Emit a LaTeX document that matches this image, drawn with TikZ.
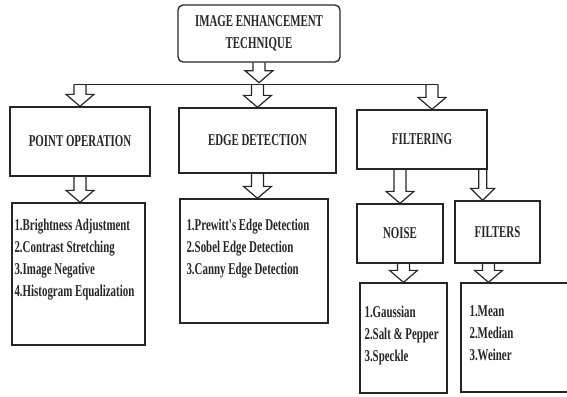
\documentclass[tikz,border=0pt]{standalone}
\usepackage{fontspec}
\newfontfamily\diagfont[FakeStretch=0.66]{Liberation Serif}
\usetikzlibrary{calc}

\tikzset{
  box/.style={draw=black!85, line width=1.3pt, inner sep=0pt},
  hdr/.style={font=\diagfont\bfseries\fontsize{16.5}{22}\selectfont, text=black!85, align=center},
  lst/.style={font=\diagfont\bfseries\fontsize{16.5}{22}\selectfont, text=black!85, align=left, anchor=north west, inner sep=0pt},
  blkline/.style={draw=black!85, line width=1.2pt, line join=miter}
}

% hollow block arrow, #1 = half shaft width
\newcommand{\blk}[3][6]{%
  \draw[blkline] let \p1=(#2), \p2=(#3), \n1={#1}, \n2={#1+8} in
    (\x1-\n1,\y1) -- (\x1-\n1,\y2+12) -- (\x1-\n2,\y2+12) -- (\x1,\y2)
    -- (\x1+\n2,\y2+12) -- (\x1+\n1,\y2+12) -- (\x1+\n1,\y1);}

\begin{document}
\begin{tikzpicture}[x=1pt, y=-1pt]
  \useasboundingbox (0,0) rectangle (567,396);

  % main boxes
  \node[box, hdr, rounded corners=5pt, minimum width=162pt, minimum height=57pt] (top) at (259,33.5) {IMAGE ENHANCEMENT\\TECHNIQUE};
  \node[box, hdr, minimum width=140pt, minimum height=69pt] (point) at (80,141.5) {POINT OPERATION};
  \node[box, hdr, minimum width=157pt, minimum height=65pt] (edge) at (257.5,140.5) {EDGE DETECTION};
  \node[box, hdr, minimum width=130pt, minimum height=59pt] (filt) at (422,139.5) {FILTERING};
  \node[box, hdr, minimum width=86pt, minimum height=59pt] (noise) at (400,233.5) {NOISE};
  \node[box, hdr, minimum width=85pt, minimum height=62pt] (filters) at (497.5,232) {FILTERS};

  % list boxes
  \node[box, minimum width=133pt, minimum height=142pt] (pointlist) at (78.5,274) {};
  \node[box, minimum width=148pt, minimum height=124pt] (edgelist) at (254,261) {};
  \node[box, minimum width=87pt, minimum height=110pt] (noiselist) at (403.5,338) {};
  \node[box, minimum width=107pt, minimum height=109pt] (filterlist) at (514.5,337.5) {};

  \node[lst] (pointtxt) at ([shift={(3,16)}]pointlist.north west) {1.Brightness Adjustment\\2.Contrast Stretching\\3.Image Negative\\4.Histogram Equalization};
  \node[lst] (edgetxt) at ([shift={(7,20)}]edgelist.north west) {1.Prewitt's Edge Detection\\2.Sobel Edge Detection\\3.Canny Edge Detection};
  \node[lst] (noisetxt) at ([shift={(5,23)}]noiselist.north west) {1.Gaussian\\2.Salt \& Pepper\\3.Speckle};
  \node[lst] (filtertxt) at ([shift={(9,23)}]filterlist.north west) {1.Mean\\2.Median\\3.Weiner};

  % bus line
  \path (top.south) ++(0,20) coordinate (topend);
  \path (point.north) ++(0,-22) coordinate (busL);
  \path (filt.north) ++(10,-25) coordinate (busR);
  \draw[blkline] ([xshift=-6pt]busL) -- ([xshift=6pt]busR);

  % arrows
  \blk{top.south}{topend}
  \blk{busL}{busL |- point.north}
  \blk{edge.north |- busL}{edge.north}
  \blk{busR}{busR |- filt.north}
  \blk{point.south}{point.south |- pointlist.north}
  \blk{edge.south}{edge.south |- edgelist.north}
  \blk{noise.north |- filt.south}{noise.north}
  \coordinate (fsplit) at ([xshift=-5pt]filt.south east);
  \blk[4]{fsplit}{fsplit |- filters.north}
  \blk{noiselist.north |- noise.south}{noiselist.north}
  \coordinate (fdrop) at ([xshift=-9pt]filters.south);
  \blk{fdrop}{fdrop |- filterlist.north}
\end{tikzpicture}
\end{document}
